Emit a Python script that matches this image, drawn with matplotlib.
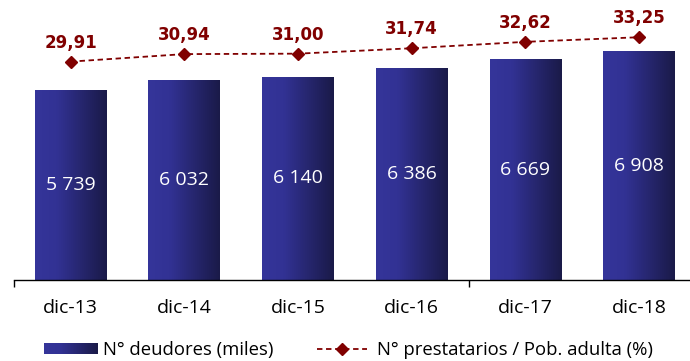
import matplotlib.pyplot as plt
import numpy as np
from matplotlib.colors import LinearSegmentedColormap
from matplotlib.lines import Line2D

periodos = ['dic-13', 'dic-14', 'dic-15', 'dic-16', 'dic-17', 'dic-18']
deudores = [5739, 6032, 6140, 6386, 6669, 6908]  # miles
ratio = [29.91, 30.94, 31.00, 31.74, 32.62, 33.25]  # % poblacion adulta

FONT = 'Open Sans'
ROJO = '#800000'
grad = LinearSegmentedColormap.from_list(
    'barra', [(0, '#35359a'), (0.3, '#323294'), (1, '#1a1a48')])


def miles(v):
    return f'{v:,}'.replace(',', ' ')


fig = plt.figure(figsize=(6.9, 3.61), dpi=100)
ax = fig.add_axes([13.7 / 690, 81 / 361, 682.2 / 690, 280 / 361])
x = np.arange(len(periodos))

bars = ax.bar(x, deudores, width=0.63, color='none', zorder=2)
g = np.linspace(0, 1, 256).reshape(1, -1)
for b, v in zip(bars, deudores):
    im = ax.imshow(g, cmap=grad, aspect='auto', zorder=1,
                   extent=(b.get_x(), b.get_x() + b.get_width(), 0, b.get_height()))
    im.set_clip_path(b)
    ax.text(b.get_x() + b.get_width() / 2, v / 2, miles(v), color='white',
            ha='center', va='center', fontsize=14, family=FONT, zorder=3)

ax.set_xlim(-0.5, 5.5)
ax.set_ylim(0, 8450)
for s in ['top', 'left', 'right']:
    ax.spines[s].set_visible(False)
ax.spines['bottom'].set_linewidth(1.0)
ax.set_yticks([])
ax.set_xticks(x)
ax.set_xticklabels(periodos, fontsize=14, family=FONT)
ax.tick_params(axis='x', which='major', length=0, pad=14)
ax.set_xticks([-0.5, 3.5], minor=True)
ax.tick_params(axis='x', which='minor', length=5, width=1, direction='out')

ax2 = ax.twinx()
ax2.plot(x, ratio, color=ROJO, lw=1.3, ls=(0, (3, 2)), marker='D', ms=6)
for xi, r in zip(x, ratio):
    ax2.annotate(f'{r:.2f}'.replace('.', ','), (xi, r), xytext=(0, 10),
                 textcoords='offset points', ha='center', va='baseline',
                 color=ROJO, fontsize=12, fontweight='bold',
                 family='DejaVu Sans')
ax2.set_ylim(0, 38.35)
ax2.set_yticks([])
for s in ax2.spines.values():
    s.set_visible(False)

# leyenda
sw = fig.add_axes([44 / 690, 7 / 361, 54 / 690, 11 / 361])
sw.imshow(g, cmap=grad, aspect='auto')
sw.axis('off')
fig.text(103 / 690, 6 / 361, 'N° deudores (miles)', fontsize=13.3,
         family=FONT, va='baseline')
fig.add_artist(Line2D([317 / 690, 367 / 690], [12.5 / 361, 12.5 / 361],
                      color=ROJO, lw=1.3, ls=(0, (3, 2))))
fig.add_artist(Line2D([342 / 690], [12.5 / 361], color=ROJO, marker='D', ms=6))
fig.text(377 / 690, 6 / 361, 'N° prestatarios / Pob. adulta (%)',
         fontsize=13.3, family=FONT, va='baseline')

fig.savefig('out.png', dpi=100)
